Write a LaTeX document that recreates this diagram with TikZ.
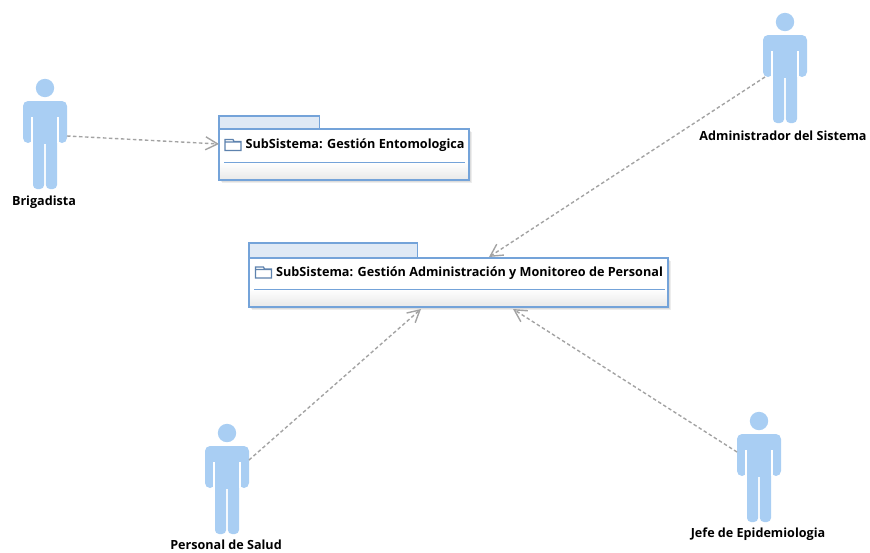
\documentclass[tikz,border=0pt]{standalone}
\usepackage{fontspec}
\setmainfont{Open Sans}
\usetikzlibrary{arrows.meta,calc,shadings}
\definecolor{actorblue}{HTML}{A9CEF3}
\definecolor{pkgline}{HTML}{74A3D9}
\definecolor{pkgtab}{HTML}{DFE9F5}
\definecolor{deplin}{HTML}{A3A3A3}
\tikzset{
  x=1pt,y=-1pt,
  actornode/.style={minimum width=44pt,minimum height=88pt,inner sep=0pt,outer sep=0pt},
  actorlabel/.style={font=\bfseries\fontsize{12.6}{14}\selectfont,text=black,inner sep=0pt},
  pkgfill/.style={inner sep=0pt,outer sep=0pt,fill=white},
  pkggrad/.style={top color=white,bottom color=black!9},
  pkgborder/.style={draw=pkgline,line width=1.1pt},
  pkgtabstyle/.style={draw=pkgline,line width=1.1pt,fill=pkgtab},
  pkgshadow/.style={fill=black,opacity=0.07},
  pkgdivider/.style={draw=pkgline,line width=1pt},
  pkgtitle/.style={font=\bfseries\fontsize{12.65}{14}\selectfont,text=black,inner sep=0pt,anchor=west},
  dep/.style={draw=deplin,line width=1.4pt,dash pattern=on 3.5pt off 2.5pt,-{Straight Barb[length=12pt,width=13pt,line width=1.4pt]}},
  pics/actorfig/.style={code={
    \fill[actorblue] (0,-57) circle[radius=9.2];
    \fill[actorblue,rounded corners=5pt] (-22,-44) -- (22,-44) -- (22,-2) -- (12,-2) -- (12,-30) -- (-12,-30) -- (-12,-2) -- (-22,-2) -- cycle;
    \fill[actorblue] (-12.4,-30.5) -- (12.4,-30.5) -- (12.4,-1) -- (-12.4,-1) -- cycle;
    \fill[actorblue,rounded corners=4pt] (-12,-10) -- (-0.9,-10) -- (-0.9,44) -- (-12,44) -- cycle;
    \fill[actorblue,rounded corners=4pt] (0.9,-10) -- (12,-10) -- (12,44) -- (0.9,44) -- cycle;
    \fill[white] (-14.2,-28) rectangle (-12.2,-2.5);
    \fill[white] (12.2,-28) rectangle (14.2,-2.5);
  }},
  pics/foldericon/.style={code={
    \draw[pkgline!80!black,line width=1.2pt,fill=white] (0,0) -- (0,-5) -- (8,-5) -- (9,-3) -- (16,-3) -- (16,6) -- (0,6) -- cycle (0,-2.5) -- (16,-2.5);
  }}
}
\begin{document}
\begin{tikzpicture}
\useasboundingbox (0,0) rectangle (870,552);
% package shadows
\foreach \d in {1,2,3}{
  \fill[pkgshadow] (219+\d,129+\d) rectangle (469+\d,180+\d);
  \fill[pkgshadow] (249+\d,258+\d) rectangle (668+\d,307+\d);
}
% packages
\draw[pkgtabstyle] (219,116) rectangle (319.5,129.5);
\draw[pkgtabstyle] (249,243) rectangle (417.5,258);
\node[pkgfill,minimum width=250pt,minimum height=51pt] (pkgA) at (344,154.5) {};
\node[pkgfill,minimum width=419pt,minimum height=49pt] (pkgB) at (458.5,282.5) {};
\shade[pkggrad] (pkgA.west |- 0,162) rectangle (pkgA.south east);
\shade[pkggrad] (pkgB.west |- 0,289) rectangle (pkgB.south east);
\draw[pkgborder] (pkgA.north west) rectangle (pkgA.south east);
\draw[pkgborder] (pkgB.north west) rectangle (pkgB.south east);
\draw[pkgdivider] (224,162) -- (465,162);
\draw[pkgdivider] (254,289) -- (665,289);
\pic at (225,144.5) {foldericon};
\pic at (255.5,272) {foldericon};
\node[pkgtitle] (titleA) at (245.5,145.5) {SubSistema: Gestión Entomologica};
\node[pkgtitle] (titleB) at (276,273) {SubSistema: Gestión Administración y Monitoreo de Personal};
% actors
\node[actornode] (brig) at (45,145) {};
\pic at (brig) {actorfig};
\node[actorlabel] (brigL) at (44,202.5) {Brigadista};
\node[actornode] (admin) at (785,79) {};
\pic at (admin) {actorfig};
\node[actorlabel] (adminL) at (783,136) {Administrador del Sistema};
\node[actornode] (salud) at (227,490) {};
\pic at (salud) {actorfig};
\node[actorlabel] (saludL) at (226,544.5) {Personal de Salud};
\node[actornode] (jefe) at (759,478) {};
\pic at (jefe) {actorfig};
\node[actorlabel] (jefeL) at (758,534) {Jefe de Epidemiologia};
% dependencies
\draw[dep] (brig.east |- 0,136) -- (pkgA.west |- 0,144);
\draw[dep] (admin.west |- 0,77) ++(2,0) -- ($(pkgB.north west)+(240,-1)$);
\draw[dep] (salud.east |- 0,460) -- ($(pkgB.south west)+(172,2)$);
\draw[dep] (jefe.west |- 0,452) -- ($(pkgB.south west)+(264,2)$);
\end{tikzpicture}
\end{document}
